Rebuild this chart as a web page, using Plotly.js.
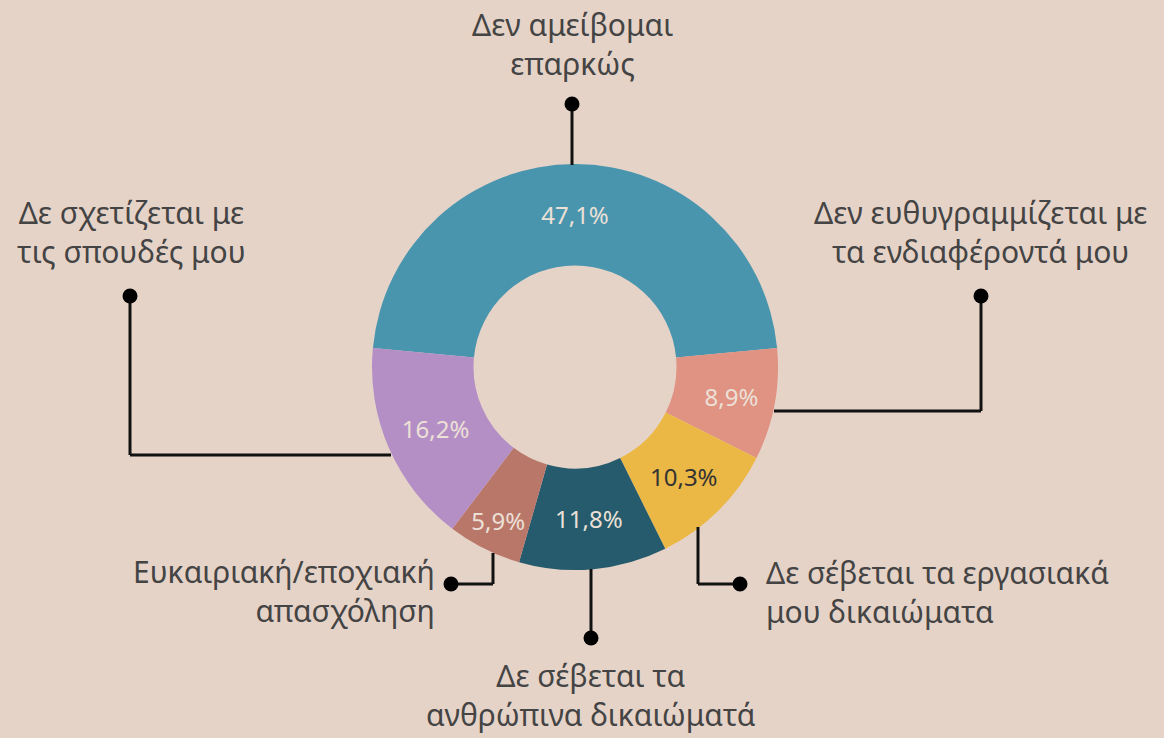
<!DOCTYPE html>
<html>
<head>
<meta charset="utf-8">
<script src="https://cdn.plot.ly/plotly-3.0.1.min.js"></script>
<style>html,body{margin:0;padding:0;background:#e6d3c8;}</style>
</head>
<body>
<div id="chart" style="width:1164px;height:738px;"></div>
<script>
// ---- data ----
const categories = [
  'Δεν αμείβομαι επαρκώς',
  'Δεν ευθυγραμμίζεται με τα ενδιαφέροντά μου',
  'Δε σέβεται τα εργασιακά μου δικαιώματα',
  'Δε σέβεται τα ανθρώπινα δικαιώματά',
  'Ευκαιριακή/εποχιακή απασχόληση',
  'Δε σχετίζεται με τις σπουδές μου'
];
const shares = [47.1, 8.9, 10.3, 11.8, 5.9, 16.2];
const labelTexts = [
  'Δεν αμείβομαι<br>επαρκώς',
  'Δεν ευθυγραμμίζεται με<br>τα ενδιαφέροντά μου',
  'Δε σέβεται τα εργασιακά<br>μου δικαιώματα',
  'Δε σέβεται τα<br>ανθρώπινα δικαιώματά',
  'Ευκαιριακή/εποχιακή<br>απασχόληση',
  'Δε σχετίζεται με<br>τις σπουδές μου'
];
const sliceColors = ['#4a95ae', '#e09283', '#ecb845', '#255b6c', '#b9776a', '#b48fc5'];
const valueTextColors = ['#ece0d7', '#ece0d7', '#333333', '#ece0d7', '#ece0d7', '#ece0d7'];

// ---- layout helpers (pixel -> paper) ----
const W = 1164, H = 738;
const px = x => x / W;
const py = y => 1 - y / H;
const cx = 575, cy = 367, R = 203;

const trace = {
  type: 'pie',
  labels: categories,
  values: shares,
  sort: false,
  direction: 'clockwise',
  rotation: -84.6,
  hole: 0.5,
  marker: {colors: sliceColors, line: {width: 0}},
  texttemplate: '%{value:.1f}%',
  textposition: 'inside',
  insidetextorientation: 'horizontal',
  textfont: {family: 'Noto Sans, Open Sans, sans-serif', size: 24, color: valueTextColors},
  domain: {x: [px(cx - R), px(cx + R)], y: [py(cy + R), py(cy - R)]},
  hoverinfo: 'label+value',
  showlegend: false
};

// connectors: polyline points in pixels, and dot location
const connectors = [
  {pts: [[572, 104], [572, 165]], dot: [572, 104]},
  {pts: [[981, 296], [981, 411], [774, 411]], dot: [981, 296]},
  {pts: [[698, 527], [698, 584], [740, 584]], dot: [740, 584]},
  {pts: [[591, 569], [591, 638]], dot: [591, 638]},
  {pts: [[493, 553], [493, 584], [451, 584]], dot: [451, 584]},
  {pts: [[130, 296], [130, 455], [391, 455]], dot: [130, 296]}
];
const labelPos = [
  {x: 572, y: 44, xanchor: 'center', align: 'center'},
  {x: 980, y: 232, xanchor: 'center', align: 'center'},
  {x: 765, y: 592, xanchor: 'left', align: 'left'},
  {x: 591, y: 695, xanchor: 'center', align: 'center'},
  {x: 436, y: 591, xanchor: 'right', align: 'right'},
  {x: 131, y: 232, xanchor: 'center', align: 'center'}
];

const shapes = [];
connectors.forEach(c => {
  for (let i = 0; i < c.pts.length - 1; i++) {
    shapes.push({type: 'line', xref: 'paper', yref: 'paper',
      x0: px(c.pts[i][0]), y0: py(c.pts[i][1]), x1: px(c.pts[i + 1][0]), y1: py(c.pts[i + 1][1]),
      line: {color: '#111111', width: 3}});
  }
  const r = 7.5;
  shapes.push({type: 'circle', xref: 'paper', yref: 'paper',
    x0: px(c.dot[0] - r), x1: px(c.dot[0] + r), y0: py(c.dot[1] + r), y1: py(c.dot[1] - r),
    fillcolor: '#000000', line: {width: 0}});
});

const annotations = labelTexts.map((t, i) => ({
  xref: 'paper', yref: 'paper', x: px(labelPos[i].x), y: py(labelPos[i].y),
  xanchor: labelPos[i].xanchor, yanchor: 'middle', align: labelPos[i].align,
  text: t, showarrow: false, borderpad: 0,
  font: {family: 'Noto Sans, Open Sans, sans-serif', size: 30, color: '#444444'}
}));

const layout = {
  width: W, height: H,
  margin: {l: 0, r: 0, t: 0, b: 0},
  paper_bgcolor: '#e6d3c8',
  plot_bgcolor: '#e6d3c8',
  separators: ',.',
  showlegend: false,
  shapes: shapes,
  annotations: annotations
};

Plotly.newPlot('chart', [trace], layout, {displayModeBar: false, staticPlot: true});
</script>
</body>
</html>
